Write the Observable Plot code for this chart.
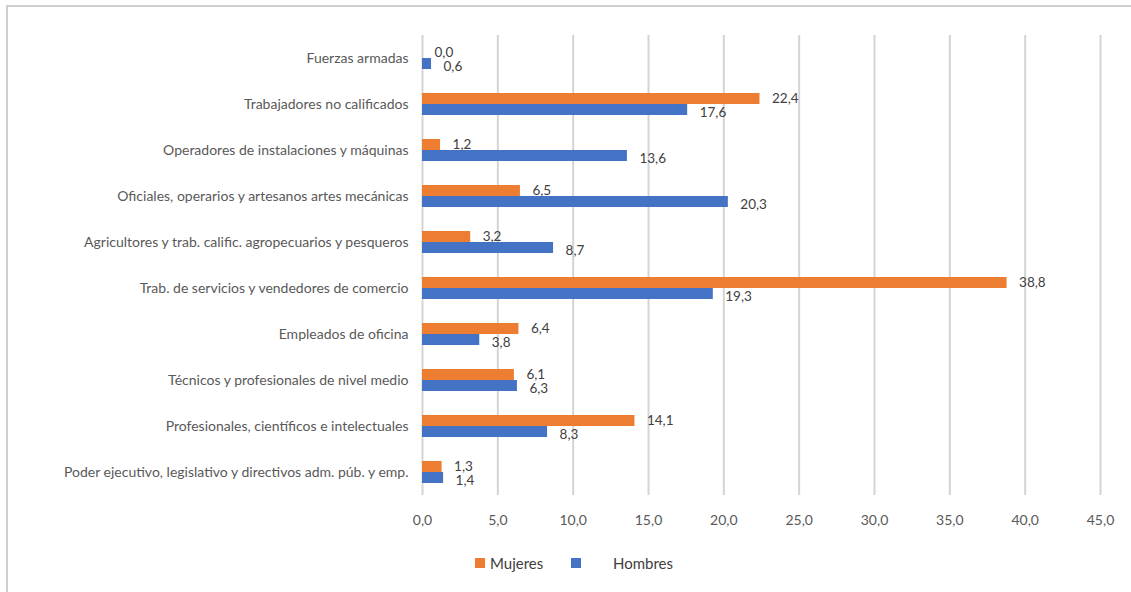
<!DOCTYPE html>
<html>
<head>
<meta charset="utf-8">
<script src="https://cdn.jsdelivr.net/npm/d3@7"></script>
<script src="https://cdn.jsdelivr.net/npm/@observablehq/plot@0.6"></script>
<style>
  html, body { margin: 0; padding: 0; background: #fff; width: 1131px; height: 592px; overflow: hidden; }
  #frame { position: absolute; left: 6px; top: 5px; width: 1130px; height: 592px; border-top: 2px solid #cfcfcf; border-left: 2px solid #cfcfcf; }
  #chart { position: absolute; left: 0; top: 0; }
  #legend { position: absolute; top: 554px; left: 0; font-family: Lato, "Open Sans", sans-serif; font-size: 15px; color: #404040; }
  .item { position: absolute; white-space: nowrap; display: flex; align-items: center; }
  .sw { width: 10px; height: 10px; display: inline-block; margin-right: 5px; }
</style>
</head>
<body>
<div id="frame"></div>
<div id="chart"></div>
<div id="legend"></div>
<script>
const categories = [
  "Fuerzas armadas",
  "Trabajadores no calificados",
  "Operadores de instalaciones y máquinas",
  "Oficiales, operarios y artesanos artes mecánicas",
  "Agricultores y trab. calific. agropecuarios y pesqueros",
  "Trab. de servicios y vendedores de comercio",
  "Empleados de oficina",
  "Técnicos y profesionales de nivel medio",
  "Profesionales, científicos e intelectuales",
  "Poder ejecutivo, legislativo y directivos adm. púb. y emp."
];
const mujeres = [0.0, 22.4, 1.2, 6.5, 3.2, 38.8, 6.4, 6.1, 14.1, 1.3];
const hombres = [0.6, 17.6, 13.6, 20.3, 8.7, 19.3, 3.8, 6.3, 8.3, 1.4];
const series = ["Mujeres", "Hombres"];
const colors = ["#ED7D31", "#4472C4"];
const xTicks = [0, 5, 10, 15, 20, 25, 30, 35, 40, 45];

const fmt = v => v.toFixed(1).replace(".", ",");

const dataM = categories.map((c, i) => ({cat: c, sexo: series[0], v: mujeres[i]}));
const dataH = categories.map((c, i) => ({cat: c, sexo: series[1], v: hombres[i]}));
const data = dataM.concat(dataH);

const labelStyle = {x: "v", y: "sexo", fy: "cat", text: d => fmt(d.v), dx: 12, textAnchor: "start", fill: "#404040", fontSize: 13.5};

const chart = Plot.plot({
  width: 1131,
  height: 540,
  marginLeft: 422,
  marginRight: 31,
  marginTop: 31,
  marginBottom: 42,
  style: {fontFamily: "Lato, 'Open Sans', sans-serif", fontSize: "14px", color: "#595959", background: "transparent"},
  x: {domain: [0, 45], ticks: xTicks, tickFormat: fmt},
  fy: {domain: categories, padding: 0},
  y: {domain: series, paddingInner: 0.04, paddingOuter: 0.95, axis: null},
  color: {domain: series, range: colors},
  marks: [
    Plot.gridX({ticks: xTicks, stroke: "#d4d4d4", strokeOpacity: 1, strokeWidth: 2}),
    Plot.axisX({ticks: xTicks, tickSize: 0, tickPadding: 20, tickFormat: fmt, label: null, fontSize: 14}),
    Plot.axisFy({anchor: "left", tickSize: 0, tickPadding: 14, label: null, fontSize: 14}),
    Plot.barX(data, {x: "v", y: "sexo", fy: "cat", fill: "sexo"}),
    Plot.text(dataM, {...labelStyle, dy: 0}),
    Plot.text(dataH, {...labelStyle, dy: 3})
  ]
});
document.getElementById("chart").appendChild(chart);

const legend = document.getElementById("legend");
const legendLeft = [475, 571];
series.forEach((s, i) => {
  const it = document.createElement("div");
  it.className = "item";
  it.style.left = legendLeft[i] + "px";
  const sw = document.createElement("span");
  sw.className = "sw";
  sw.style.background = colors[i];
  it.appendChild(sw);
  const t = document.createElement("span");
  t.textContent = s;
  if (i === 1) t.style.marginLeft = "27px";
  it.appendChild(t);
  legend.appendChild(it);
});
</script>
</body>
</html>
